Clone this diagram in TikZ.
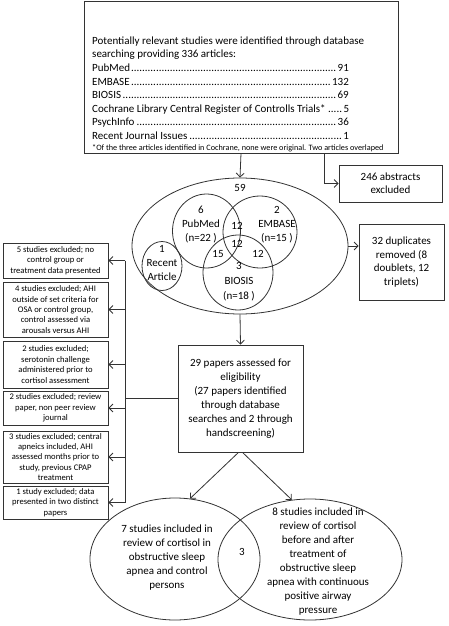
\documentclass[tikz,border=0pt]{standalone}
\usepackage{fontspec}
\setmainfont{Carlito}
\usetikzlibrary{arrows.meta,shapes.geometric,calc}
\newcommand\mydotrow[2]{\hbox to 257pt{#1\leaders\hbox{.}\hfill #2}}
\begin{document}
\begin{tikzpicture}[x=1pt,y=-1pt,
  line/.style={draw=black!80, line width=0.8pt},
  arr/.style={line, -{Straight Barb[length=4pt,width=8pt]}},
  box/.style={line, rectangle, inner sep=0pt, align=center},
  venn/.style={line, ellipse, inner sep=0pt},
  t11/.style={font=\fontsize{11}{14}\selectfont, align=center, inner sep=0pt},
  t9/.style={font=\fontsize{8.6}{10.4}\selectfont, align=center, inner sep=0pt},
  lbox/.style={box, t9, minimum width=105pt},
]
\useasboundingbox (0,0) rectangle (448,626);

% top box
\node[box, minimum width=314pt, minimum height=152pt] (top) at (241,77) {};
\node[anchor=north west, inner sep=0pt, align=left, font=\fontsize{11}{13.6}\selectfont] (toptxt) at (92,36.5)
{Potentially relevant studies were identified through database\\
searching providing 336 articles:\\
\mydotrow{PubMed}{91}\\
\mydotrow{EMBASE}{132}\\
\mydotrow{BIOSIS}{69}\\
\mydotrow{Cochrane Library Central Register of Controlls Trials*}{5}\\
\mydotrow{PsychInfo}{36}\\
\mydotrow{Recent Journal Issues}{1}};
\node[anchor=base west, inner sep=0pt, font=\fontsize{8.2}{10}\selectfont] (topnote) at (92,150)
{*Of the three articles identified in Cochrane, none were original. Two articles overlaped};

% right boxes
\node[box, t11, font=\fontsize{11}{13}\selectfont, minimum width=103pt, minimum height=37pt] (ex) at (390.5,183.5) {246 abstracts\\excluded};
\node[box, t11, font=\fontsize{11}{13.5}\selectfont, minimum width=85pt, minimum height=76pt] (dup) at (401.5,262) {32 duplicates\\removed (8\\doublets, 12\\triplets)};

% top Venn
\node[venn, minimum width=216pt, minimum height=136pt] (all) at (240,246) {};
\node[t11] (n59) at (240,188) {59};
\node[venn, minimum width=68pt, minimum height=74pt] (pub) at (206.5,231) {};
\node[venn, minimum width=74pt, minimum height=72pt] (emb) at (260,232) {};
\node[venn, minimum width=70pt, minimum height=75pt] (bio) at (238,272.5) {};
\node[venn, minimum width=40pt, minimum height=49pt] (rec) at (162,266) {};
\node[t11] (pubt) at (201,225) {6\\PubMed\\(n=22 )};
\node[t11] (embt) at (277,225) {2\\EMBASE\\(n=15 )};
\node[t11, font=\fontsize{11}{15}\selectfont] (biot) at (239,282) {3\\BIOSIS\\(n=18 )};
\node[t11] (rect) at (162,263) {1\\Recent\\Article};
\node[t11] (pe) at (237,226) {12};
\node[t11] (pbe) at (237,244) {12};
\node[t11] (pb) at (218,254) {15};
\node[t11] (eb) at (258,254) {12};

% review box
\node[box, t11, minimum width=125pt, minimum height=107pt] (rev) at (240.5,398.5)
{29 papers assessed for\\eligibility\\(27 papers identified\\through database\\searches and 2 through\\handscreening)};

% left boxes
\node[lbox, minimum height=35pt] (b1) at (55.5,260.5) {5 studies excluded; no\\control group or\\treatment data presented};
\node[lbox, minimum height=55pt] (b2) at (55.5,309.5) {4 studies excluded; AHI\\outside of set criteria for\\OSA or control group,\\control assessed via\\arousals versus AHI};
\node[lbox, minimum height=47pt] (b3) at (55.5,364.5) {2 studies excluded;\\serotonin challenge\\administered prior to\\cortisol assessment};
\node[lbox, minimum height=34pt] (b4) at (55.5,408) {2 studies excluded; review\\paper, non peer review\\journal};
\node[lbox, minimum height=52pt] (b5) at (55.5,457) {3 studies excluded; central\\apneics included, AHI\\assessed months prior to\\study, previous CPAP\\treatment};
\node[lbox, minimum height=33pt] (b6) at (55.5,502.5) {1 study excluded; data\\presented in two distinct\\papers};

% bottom Venn
\node[venn, minimum width=170pt, minimum height=122pt] (L) at (175,559) {};
\node[venn, minimum width=184pt, minimum height=121pt] (R) at (310,559.5) {};
\node[t11] (Lt) at (167,558) {7 studies included in\\review of cortisol in\\obstructive sleep\\apnea and control\\persons};
\node[t11] (Rt) at (318,562) {8 studies included in\\review of cortisol\\before and after\\treatment of\\obstructive sleep\\apnea with continuous\\positive airway\\pressure};
\node[t11] (LR) at (242,552) {3};

% connectors
\coordinate (tap) at (324,0);
\coordinate (bus) at (125,398);
\draw[arr] (top.south) -- (all.north);
\draw[arr] (top.south -| tap) |- (ex.west);
\draw[arr] (all.east) -- (all.east -| dup.west);
\draw[arr] (all.south) -- (rev.north);
\draw[line] (rev.west) -- (rev.west -| bus);
\draw[line] (bus |- b1.east) -- (bus |- b6.east);
\foreach \b in {b1,b2,b3,b4,b5,b6} \draw[arr] (bus |- \b.east) -- (\b.east);
\draw[arr] ([xshift=-2pt]rev.south) -- (L.76);
\draw[arr] ([xshift=2pt]rev.south) -- (R.107);
\end{tikzpicture}
\end{document}
